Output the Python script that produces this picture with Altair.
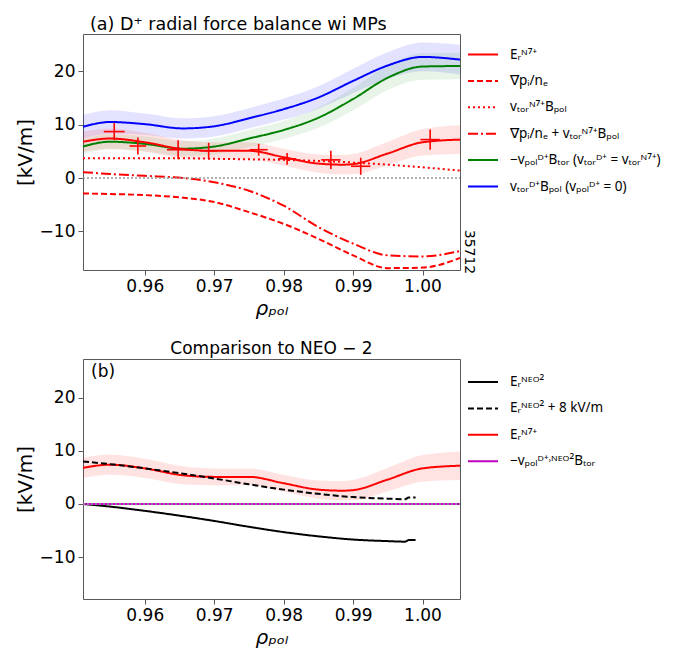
import altair as alt
import pandas as pd

# ---------------- data: panel (a) ----------------
rho_er = [0.9511, 0.955, 0.96, 0.9655, 0.97, 0.975, 0.98, 0.985, 0.9885, 0.99, 0.995, 1.00, 1.0054]
er = [6.8, 7.4, 6.7, 5.4, 5.1, 5.1, 3.9, 2.7, 2.5, 2.6, 4.6, 6.7, 7.2]
er_err = [1.9, 1.9, 1.8, 1.7, 1.6, 1.6, 1.6, 1.7, 1.8, 1.9, 2.2, 2.5, 2.7]

rho_grid = [0.9511, 0.955, 0.96, 0.9655, 0.97, 0.975, 0.98, 0.985, 0.99, 0.995, 1.00, 1.0054]
blue = [9.6, 10.5, 10.1, 9.3, 9.7, 11.2, 12.9, 15.1, 18.2, 21.1, 22.7, 22.2]
blue_err = [2.2, 2.2, 2.0, 1.9, 1.9, 1.9, 2.0, 2.1, 2.3, 2.5, 2.7, 2.8]
green = [5.9, 6.8, 6.4, 5.5, 5.9, 7.4, 9.0, 11.3, 14.8, 18.8, 20.9, 21.0]
green_err = [1.4, 1.4, 1.4, 1.4, 1.5, 1.6, 1.7, 1.9, 2.1, 2.3, 2.5, 2.5]
vtor_bpol = [3.7, 3.7, 3.7, 3.7, 3.6, 3.5, 3.4, 3.2, 2.9, 2.5, 2.0, 1.4]
gradp_plus = [1.1, 0.75, 0.4, 0.0, -0.8, -2.4, -5.2, -9.2, -12.3, -14.5, -14.7, -13.7]
gradp = [-2.9, -3.0, -3.2, -3.7, -4.5, -6.4, -8.6, -11.4, -14.5, -16.9, -16.8, -15.0]

rho_pts = [0.9556, 0.9590, 0.9648, 0.9692, 0.9764, 0.9805, 0.9868, 0.9911, 1.0011]
er_pts = [8.7, 6.0, 5.3, 5.1, 5.3, 3.6, 3.4, 2.2, 7.2]
err_y = [1.6, 1.6, 1.8, 1.5, 1.1, 1.1, 1.7, 1.6, 1.9]
err_x = [0.0015, 0.0012, 0.0016, 0.0012, 0.0013, 0.0013, 0.0014, 0.0014, 0.0014]

# ---------------- data: panel (b) ----------------
rho_neo = [0.9511, 0.955, 0.96, 0.965, 0.97, 0.975, 0.98, 0.985, 0.99, 0.995, 0.9975, 0.998, 0.999]
neo = [0.0, -0.5, -1.3, -2.2, -3.2, -4.3, -5.3, -6.1, -6.7, -7.0, -7.1, -6.8, -6.8]
neo_p8 = [8.0, 7.5, 6.7, 5.8, 4.8, 3.7, 2.7, 1.9, 1.3, 1.0, 0.9, 1.2, 1.2]
rho_zero = [0.9511, 1.0054]
vpol_neo = [0.0, 0.0]

# labels
L_ER = "Eᵣᴺ⁷⁺"
L_GP = "∇pᵢ/nₑ"
L_VT = "vₜₒᵣᴺ⁷⁺Bₚₒₗ"
L_GPV = "∇pᵢ/nₑ + vₜₒᵣᴺ⁷⁺Bₚₒₗ"
L_GR = "−vₚₒₗᴰ⁺Bₜₒᵣ (vₜₒᵣᴰ⁺ = vₜₒᵣᴺ⁷⁺)"
L_BL = "vₜₒᵣᴰ⁺Bₚₒₗ (vₚₒₗᴰ⁺ = 0)"
L_N = "Eᵣᴺᴱᴼ²"
L_N8 = "Eᵣᴺᴱᴼ² + 8 kV/m"
L_VP = "−vₚₒₗᴰ⁺˒ᴺᴱᴼ²Bₜₒᵣ"

TITLE_A = "(a)  D⁺ radial force balance wi MPs"
TITLE_B = "Comparison to NEO − 2"

W = 377
XDOM = [0.9511, 1.0054]
FONT = "DejaVu Sans"


def long_df(pairs):
    rows = []
    for label, xs, ys in pairs:
        for i, (a, b) in enumerate(zip(xs, ys)):
            rows.append({"rho": a, "val": b, "series": label, "i": i})
    return pd.DataFrame(rows)


def band_df(xs, ys, es):
    return pd.DataFrame({"rho": xs, "lo": [y - e for y, e in zip(ys, es)],
                         "hi": [y + e for y, e in zip(ys, es)]})


def xenc():
    return alt.X("rho:Q", scale=alt.Scale(domain=XDOM, nice=False, zero=False),
                 axis=alt.Axis(values=[0.96, 0.97, 0.98, 0.99, 1.00], format=".2f",
                               title="ρₚₒₗ", titleFontStyle="italic"))


def text_layer(txt, x, y, size, align):
    return alt.Chart(pd.DataFrame({"t": [txt]})).mark_text(
        fontSize=size, align=align, baseline="alphabetic", font=FONT, color="black").encode(
        text="t:N", x=alt.value(x), y=alt.value(y))


def panel(ydom, height, bands, lines_pairs, dom, colors, dashes, extra, legend_y):
    ysc = alt.Scale(domain=ydom, nice=False, zero=False)
    yax = alt.Axis(values=[-10, 0, 10, 20], format="d", title="[kV/m]")
    layers = []
    for df, col, op in bands:
        layers.append(alt.Chart(df).mark_area(color=col, opacity=op, interpolate="monotone", clip=True).encode(
            x=xenc(), y=alt.Y("lo:Q", scale=ysc, axis=yax), y2="hi:Q"))
    zero = pd.DataFrame({"rho": rho_zero, "val": [0.0, 0.0]})
    leg = alt.Legend(title=None, orient="none", legendX=384, legendY=legend_y)
    lines = alt.Chart(long_df(lines_pairs)).mark_line(strokeWidth=2, interpolate="monotone", clip=True).encode(
        x=xenc(), y=alt.Y("val:Q", scale=ysc, axis=yax),
        color=alt.Color("series:N", scale=alt.Scale(domain=dom, range=colors), legend=leg),
        strokeDash=alt.StrokeDash("series:N", scale=alt.Scale(domain=dom, range=dashes), legend=leg),
        order="i:Q")
    layers.append(lines)
    layers.append(alt.Chart(zero).mark_line(color="#999999", strokeDash=[2, 2], strokeWidth=1.5, clip=True).encode(
        x=xenc(), y=alt.Y("val:Q", scale=ysc, axis=yax)))
    for e in extra:
        layers.append(e(ysc, yax))
    return alt.layer(*layers).properties(width=W, height=height)


# ---- panel (a) ----
pts = pd.DataFrame({"rho": rho_pts, "val": er_pts,
                    "lo": [v - e for v, e in zip(er_pts, err_y)],
                    "hi": [v + e for v, e in zip(er_pts, err_y)],
                    "xlo": [r - e for r, e in zip(rho_pts, err_x)],
                    "xhi": [r + e for r, e in zip(rho_pts, err_x)]})


def vbars(ysc, yax):
    return alt.Chart(pts).mark_rule(color="red", strokeWidth=1.6).encode(
        x=xenc(), y=alt.Y("lo:Q", scale=ysc, axis=yax), y2="hi:Q")


def hbars(ysc, yax):
    return alt.Chart(pts).mark_rule(color="red", strokeWidth=1.6).encode(
        x=alt.X("xlo:Q", scale=alt.Scale(domain=XDOM, nice=False, zero=False)), x2="xhi:Q",
        y=alt.Y("val:Q", scale=ysc, axis=yax))


def shot(ysc, yax):
    return alt.Chart(pd.DataFrame({"t": ["35712"]})).mark_text(
        angle=90, fontSize=14, align="center", baseline="middle", font=FONT).encode(
        text="t:N", x=alt.value(W + 9), y=alt.value(218))


def title_a(ysc, yax):
    return text_layer(TITLE_A, 7, -4, 17.5, "left")


dom_a = [L_ER, L_GP, L_VT, L_GPV, L_GR, L_BL]
top = panel(
    [-17.25, 27.0], 236,
    [(band_df(rho_grid, blue, blue_err), "blue", 0.11),
     (band_df(rho_grid, green, green_err), "green", 0.09),
     (band_df(rho_er, er, er_err), "red", 0.11)],
    [(L_BL, rho_grid, blue), (L_GR, rho_grid, green), (L_ER, rho_er, er),
     (L_VT, rho_grid, vtor_bpol), (L_GPV, rho_grid, gradp_plus), (L_GP, rho_grid, gradp)],
    dom_a,
    ["#ff0000", "#ff0000", "#ff0000", "#ff0000", "#008000", "#0000ff"],
    [[1, 0], [6, 3], [2, 3], [10, 3, 2, 3], [1, 0], [1, 0]],
    [vbars, hbars, shot, title_a],
    4.5)


# ---- panel (b) ----
def blabel(ysc, yax):
    return text_layer("(b)", 8, 18, 17, "left")


def title_b(ysc, yax):
    return text_layer(TITLE_B, W / 2, -5, 17, "center")


dom_b = [L_N, L_N8, L_ER, L_VP]
bot = panel(
    [-17.9, 27.3], 240,
    [(band_df(rho_er, er, er_err), "red", 0.11)],
    [(L_ER, rho_er, er), (L_N, rho_neo, neo), (L_N8, rho_neo, neo_p8), (L_VP, rho_zero, vpol_neo)],
    dom_b,
    ["#000000", "#000000", "#ff0000", "#bf00bf"],
    [[1, 0], [6, 3], [1, 0], [1, 0]],
    [blabel, title_b],
    7)

chart = alt.vconcat(top, bot, spacing=20).resolve_scale(
    color="independent", strokeDash="independent").resolve_legend(
    color="independent", strokeDash="independent").properties(
    padding={"left": 14, "top": 15, "right": 0, "bottom": 0}).configure(
    font=FONT).configure_view(stroke="#595959", strokeWidth=1).configure_axis(
    grid=False, domain=False, tickColor="#595959", tickSize=5, tickWidth=1,
    labelFontSize=17, labelColor="black", labelFont=FONT, labelPadding=3,
    titleFontSize=20, titleFontWeight="normal", titleColor="black", titleFont=FONT,
    titlePadding=4).configure_legend(
    labelFontSize=13.5, labelFont="Noto Sans", labelColor="black", symbolType="stroke",
    symbolSize=900, symbolStrokeWidth=2, labelOffset=11, rowPadding=3.4, labelLimit=400)

chart.save("out.html", embed_options={"renderer": "svg", "actions": False})
